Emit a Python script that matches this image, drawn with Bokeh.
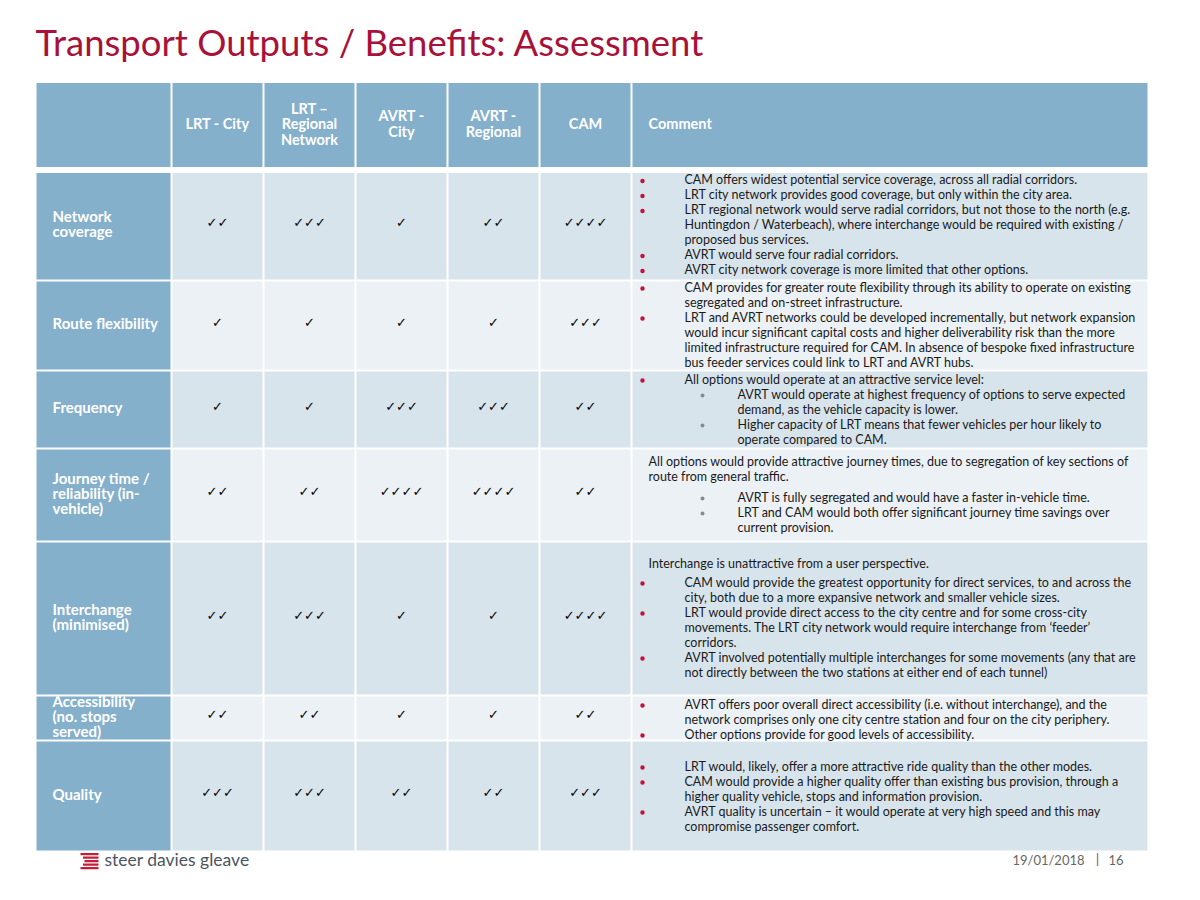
from bokeh.plotting import figure
from bokeh.models import Range1d
from bokeh.core.properties import value
from bokeh.embed import file_html
from bokeh.resources import INLINE

# ---------------- data ----------------
title_text = "Transport Outputs / Benefits: Assessment"
option_headers = [["LRT - City"], ["LRT \u2013", "Regional", "Network"], ["AVRT -", "City"],
                  ["AVRT -", "Regional"], ["CAM"]]
comment_header = "Comment"
criteria_labels = [["Network", "coverage"], ["Route flexibility"], ["Frequency"],
                   ["Journey time /", "reliability (in-", "vehicle)"], ["Interchange", "(minimised)"],
                   ["Accessibility", "(no. stops", "served)"], ["Quality"]]

ticks_lrt_city = [2, 1, 1, 2, 2, 2, 3]
ticks_lrt_regional = [3, 1, 1, 2, 3, 2, 3]
ticks_avrt_city = [1, 1, 3, 4, 1, 1, 2]
ticks_avrt_regional = [2, 1, 3, 4, 1, 1, 2]
ticks_cam = [4, 3, 2, 2, 4, 2, 3]
tick_columns = [ticks_lrt_city, ticks_lrt_regional, ticks_avrt_city, ticks_avrt_regional, ticks_cam]

# b = bullet, c = bullet continuation, p = plain, s = sub bullet, sc = sub continuation
comments_network = [
    ("b", "CAM offers widest potential service coverage, across all radial corridors."),
    ("b", "LRT city network provides good coverage, but only within the city area."),
    ("b", "LRT regional network would serve radial corridors, but not those to the north (e.g."),
    ("c", "Huntingdon / Waterbeach), where interchange would be required with existing /"),
    ("c", "proposed bus services."),
    ("b", "AVRT would serve four radial corridors."),
    ("b", "AVRT city network coverage is more limited that other options."),
]
comments_route = [
    ("b", "CAM provides for greater route flexibility through its ability to operate on existing"),
    ("c", "segregated and on-street infrastructure."),
    ("b", "LRT and AVRT networks could be developed incrementally, but network expansion"),
    ("c", "would incur significant capital costs  and higher deliverability risk than the more"),
    ("c", "limited infrastructure required for CAM.  In absence of bespoke fixed infrastructure"),
    ("c", "bus feeder services could link to LRT and AVRT hubs."),
]
comments_frequency = [
    ("b", "All options would operate at an attractive service level:"),
    ("s", "AVRT would operate at highest frequency of options to serve expected"),
    ("sc", "demand, as the vehicle capacity is lower."),
    ("s", "Higher capacity of LRT means that fewer vehicles per hour likely to"),
    ("sc", "operate compared to CAM."),
]
comments_journey = [
    ("p", "All options would provide attractive journey times, due to segregation of key sections of"),
    ("p", "route from general traffic."),
    ("s", "AVRT is fully segregated and would have a faster in-vehicle time."),
    ("s", "LRT and CAM would both offer significant journey time savings over"),
    ("sc", "current provision."),
]
comments_interchange = [
    ("p", "Interchange is unattractive from a user perspective."),
    ("b", "CAM would provide the greatest opportunity for direct services, to and across the"),
    ("c", "city, both due to a more expansive network and smaller vehicle sizes."),
    ("b", "LRT would provide direct access to the city centre and for some cross-city"),
    ("c", "movements.  The LRT city network would require interchange from \u2018feeder\u2019"),
    ("c", "corridors."),
    ("b", "AVRT involved potentially multiple interchanges for some movements (any that are"),
    ("c", "not directly between the two stations at either end of each tunnel)"),
]
comments_accessibility = [
    ("b", "AVRT offers poor overall direct accessibility (i.e. without interchange), and the"),
    ("c", "network comprises only one city centre station and four on the city periphery."),
    ("b", "Other options provide for good levels of accessibility."),
]
comments_quality = [
    ("b", "LRT would, likely, offer a more attractive ride quality than the other modes."),
    ("b", "CAM would provide a higher quality offer than existing bus provision, through a"),
    ("c", "higher quality vehicle, stops and information provision."),
    ("b", "AVRT quality is uncertain \u2013 it would operate at very high speed and this may"),
    ("c", "compromise passenger comfort."),
]
comments = [comments_network, comments_route, comments_frequency, comments_journey,
            comments_interchange, comments_accessibility, comments_quality]

footer_date = "19/01/2018"
page_number = "16"
company = "steer davies gleave"

# ---------------- layout ----------------
col_edges = [35, 171, 263, 355, 447, 539, 631, 1148]
header_top, header_bottom = 82.5, 166.5
row_edges = [171.5, 280, 370, 448, 541, 695, 740, 851]
comment_first_offset = [8, 7, 9, 13, 22, 9, 26]
comment_extra_gap = {3: {1: 6}, 4: {0: 4}}
line_step = 15
TY = -1.5  # vertical text nudge

HEAD = "#85B0CB"
DARK = "#D8E4EC"
LIGHT = "#EBF1F5"
RED = "#A8123A"
BULLET_RED = "#C0143C"
FONT = value("Lato")

p = figure(width=1184, height=884, x_range=Range1d(0, 1184), y_range=Range1d(884, 0),
           output_backend="svg", toolbar_location=None, min_border=0,
           x_axis_location=None, y_axis_location=None)
p.xgrid.visible = False
p.ygrid.visible = False
p.outline_line_color = None
p.background_fill_color = "white"
p.border_fill_color = "white"

# header cells
hl = [col_edges[i] + 1 for i in range(7)]
hr = [col_edges[i + 1] - 1 for i in range(7)]
p.quad(left=hl, right=hr, top=[header_top] * 7, bottom=[header_bottom] * 7,
       fill_color=HEAD, line_color=None)

# body cells
bl, br, bt, bb, bc = [], [], [], [], []
for r in range(7):
    for c in range(7):
        bl.append(col_edges[c] + 1)
        br.append(col_edges[c + 1] - 1)
        bt.append(row_edges[r] + 1)
        bb.append(row_edges[r + 1] - 1)
        if c == 0:
            bc.append(HEAD)
        else:
            bc.append(DARK if r % 2 == 0 else LIGHT)
p.quad(left=bl, right=br, top=bt, bottom=bb, fill_color=bc, line_color=None)

# header texts
hx, hy, ht = [], [], []
hc = (header_top + header_bottom) / 2 + TY
for i, lines in enumerate(option_headers):
    cx = (col_edges[i + 1] + col_edges[i + 2]) / 2
    n = len(lines)
    for j, t in enumerate(lines):
        hx.append(cx)
        hy.append(hc + (j - (n - 1) / 2) * 15.5)
        ht.append(t)
p.text(x=hx, y=hy, text=ht, text_font=FONT, text_font_size=value("14.5px"),
       text_font_style="bold", text_color="white", text_align="center", text_baseline="middle")
p.text(x=[648], y=[hc], text=[comment_header], text_font=FONT, text_font_size=value("14.5px"),
       text_font_style="bold", text_color="white", text_align="left", text_baseline="middle")

# row labels
lx, ly, lt = [], [], []
for r, lines in enumerate(criteria_labels):
    cy = (row_edges[r] + row_edges[r + 1]) / 2 + TY
    n = len(lines)
    for j, t in enumerate(lines):
        lx.append(52)
        ly.append(cy - 1 + (j - (n - 1) / 2) * 15)
        lt.append(t)
p.text(x=lx, y=ly, text=lt, text_font=FONT, text_font_size=value("15px"),
       text_font_style="bold", text_color="white", text_align="left", text_baseline="middle")

# ticks
tx, ty, tt = [], [], []
for c, col in enumerate(tick_columns):
    cx = (col_edges[c + 1] + col_edges[c + 2]) / 2
    for r, n in enumerate(col):
        tx.append(cx)
        ty.append((row_edges[r] + row_edges[r + 1]) / 2 - 2 + TY)
        tt.append("\u2713" * n)
p.text(x=tx, y=ty, text=tt, text_font=value("DejaVu Sans"), text_font_size=value("13px"),
       text_font_style="bold", text_color="black", text_align="center", text_baseline="middle")

# comments
xpos = {"b": 684, "c": 684, "p": 648, "s": 737, "sc": 737}
cx_, cy_, ct_ = [], [], []
rbx, rby, gbx, gby = [], [], [], []
for r, items in enumerate(comments):
    y = row_edges[r] + 1 + comment_first_offset[r]
    gaps = comment_extra_gap.get(r, {})
    for i, (kind, t) in enumerate(items):
        cx_.append(xpos[kind])
        cy_.append(y + TY)
        ct_.append(t)
        if kind == "b":
            rbx.append(642); rby.append(y)
        elif kind == "s":
            gbx.append(702); gby.append(y)
        y += line_step + gaps.get(i, 0)
p.text(x=cx_, y=cy_, text=ct_, text_font=FONT, text_font_size=value("12.5px"),
       text_color="#1a1a1a", text_align="left", text_baseline="middle")
p.scatter(x=rbx, y=rby, size=4.5, marker="circle", fill_color=BULLET_RED, line_color=None)
p.scatter(x=gbx, y=gby, size=4, marker="circle", fill_color="#8a8a8a", line_color=None)

# title
p.text(x=[35], y=[41], text=[title_text], text_font=FONT, text_font_size=value("36.5px"),
       text_color=RED, text_align="left", text_baseline="middle")

# logo
stripe_tops = [852.5, 856, 859.5, 863, 866.5]
stripe_left = [80, 82.5, 84, 82.5, 80]
p.quad(left=stripe_left, right=[98] * 5, top=stripe_tops, bottom=[t + 2.2 for t in stripe_tops],
       fill_color="#C41E3A", line_color=None)
p.text(x=[104], y=[859], text=[company], text_font=FONT, text_font_size=value("17.5px"),
       text_color="#4a5560", text_align="left", text_baseline="middle")

# footer
p.text(x=[1084], y=[859], text=[footer_date], text_font=FONT, text_font_size=value("13px"),
       text_color="#666666", text_align="right", text_baseline="middle")
p.text(x=[1097], y=[858], text=["|"], text_font=FONT, text_font_size=value("14px"),
       text_color="#666666", text_align="center", text_baseline="middle")
p.text(x=[1108], y=[859], text=[page_number], text_font=FONT, text_font_size=value("13px"),
       text_color="#666666", text_align="left", text_baseline="middle")

open("out.html", "w").write(file_html(p, INLINE))
